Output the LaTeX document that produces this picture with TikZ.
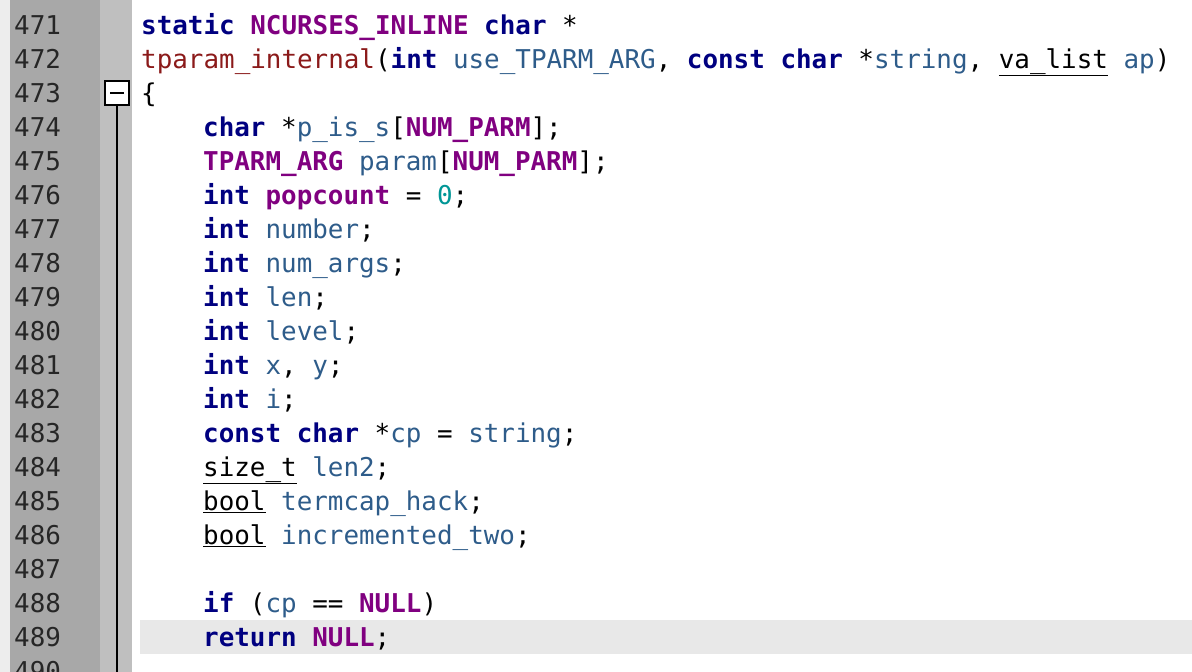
\documentclass[tikz,border=0pt]{standalone}
\usepackage{fontspec}
\setmonofont{DejaVu Sans Mono}
\usepackage{xcolor}
\definecolor{kwblue}{HTML}{000080}
\definecolor{mcpurple}{HTML}{800080}
\definecolor{idblue}{HTML}{2E5C8A}
\definecolor{fnred}{HTML}{8B1A1A}
\definecolor{numteal}{HTML}{009696}
\newcommand{\kw}[1]{\textcolor{kwblue}{\bfseries #1}}
\newcommand{\mc}[1]{\textcolor{mcpurple}{\bfseries #1}}
\newcommand{\idf}[1]{\textcolor{idblue}{#1}}
\newcommand{\ty}[1]{\underline{#1}}
\tikzset{
  code/.style={anchor=base west,inner sep=0pt,font=\fontsize{25.9}{30}\ttfamily},
  lnum/.style={anchor=base west,inner sep=0pt,font=\fontsize{25.9}{30}\ttfamily,text=black!85}
}
\begin{document}
\begin{tikzpicture}[x=1pt,y=-1pt]
  \useasboundingbox (0,0) rectangle (1192,672);
  \clip (0,0) rectangle (1192,672);
  % gutter
  \fill[black!7] (0,0) rectangle (10,672);
  \fill[black!34] (10,0) rectangle (100,672);
  \fill[black!25] (100,0) rectangle (132,672);
  % current line
  \fill[black!9] (140,620) rectangle (1192,654);
  % fold marker
  \node (fold) at (117,93) [draw=black,line width=1.6pt,fill=white,minimum size=24pt,inner sep=0pt] {};
  \draw[line width=1.6pt] (fold.center) ++(-7,0) -- ++(14,0);
  \coordinate (foldend) at (117,672);
  \draw[line width=1.6pt] (fold.south) -- (foldend);
  % line numbers
  \foreach \n [count=\i from 0] in {471,...,490}
    \node (n\n) at (14,34+34*\i) [lnum] {\n};
  % code
  \node (l471) at (141,34) [code] {\kw{static} \mc{NCURSES\_INLINE} \kw{char} *};
  \node (l472) at (141,68) [code] {\textcolor{fnred}{tparam\_internal}(\kw{int} \idf{use\_TPARM\_ARG}, \kw{const} \kw{char} *\idf{string}, \ty{va\_list} \idf{ap})};
  \node (l473) at (141,102) [code] {\{};
  \node (l474) at (203,136) [code] {\kw{char} *\idf{p\_is\_s}[\mc{NUM\_PARM}];};
  \node (l475) at (203,170) [code] {\mc{TPARM\_ARG} \idf{param}[\mc{NUM\_PARM}];};
  \node (l476) at (203,204) [code] {\kw{int} \mc{popcount} = \textcolor{numteal}{0};};
  \node (l477) at (203,238) [code] {\kw{int} \idf{number};};
  \node (l478) at (203,272) [code] {\kw{int} \idf{num\_args};};
  \node (l479) at (203,306) [code] {\kw{int} \idf{len};};
  \node (l480) at (203,340) [code] {\kw{int} \idf{level};};
  \node (l481) at (203,374) [code] {\kw{int} \idf{x}, \idf{y};};
  \node (l482) at (203,408) [code] {\kw{int} \idf{i};};
  \node (l483) at (203,442) [code] {\kw{const} \kw{char} *\idf{cp} = \idf{string};};
  \node (l484) at (203,476) [code] {\ty{size\_t} \idf{len2};};
  \node (l485) at (203,510) [code] {\ty{bool} \idf{termcap\_hack};};
  \node (l486) at (203,544) [code] {\ty{bool} \idf{incremented\_two};};
  \node (l488) at (203,612) [code] {\kw{if} (\idf{cp} == \mc{NULL})};
  \node (l489) at (203,646) [code] {\kw{return} \mc{NULL};};
\end{tikzpicture}
\end{document}
